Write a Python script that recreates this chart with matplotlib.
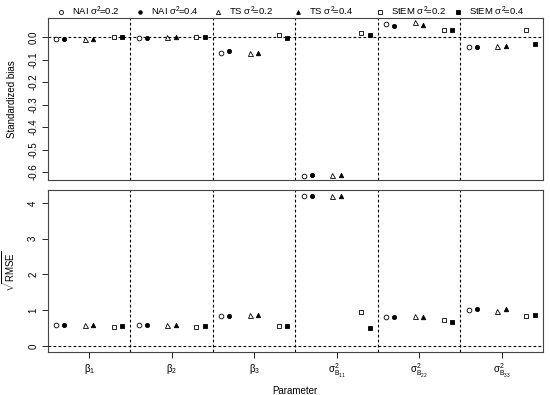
import matplotlib
matplotlib.use('Agg')
import matplotlib.pyplot as plt
from matplotlib.lines import Line2D
import numpy as np

plt.rcParams['font.family'] = ['Liberation Sans', 'DejaVu Sans']
plt.rcParams['mathtext.fontset'] = 'custom'
plt.rcParams['mathtext.rm'] = 'Liberation Sans'
plt.rcParams['mathtext.it'] = 'Liberation Sans'

# parametry
params = [r'$\beta_1$', r'$\beta_2$', r'$\beta_3$',
          r'$\sigma^2_{B_{11}}$', r'$\sigma^2_{B_{22}}$', r'$\sigma^2_{B_{33}}$']
series = [r'NAI $\sigma^2\!$=0.2', r'NAI $\sigma^2\!$=0.4',
          r'TS $\sigma^2\!$=0.2', r'TS $\sigma^2\!$=0.4',
          r'StEM $\sigma^2\!$=0.2', r'StEM $\sigma^2\!$=0.4']

# standardized bias
bias_nai_02 = [-0.010, -0.002, -0.072, -0.616, 0.060, -0.042]
bias_nai_04 = [-0.009, -0.002, -0.062, -0.615, 0.051, -0.042]
bias_ts_02 = [-0.008, 0.000, -0.069, -0.612, 0.068, -0.039]
bias_ts_04 = [-0.007, 0.000, -0.069, -0.612, 0.055, -0.039]
bias_stem_02 = [0.000, 0.000, 0.009, 0.019, 0.031, 0.030]
bias_stem_04 = [0.000, 0.000, -0.002, 0.009, 0.031, -0.033]

# sqrt RMSE
rmse_nai_02 = [0.57, 0.57, 0.83, 4.19, 0.82, 1.00]
rmse_nai_04 = [0.57, 0.57, 0.83, 4.19, 0.81, 1.03]
rmse_ts_02 = [0.59, 0.57, 0.85, 4.20, 0.83, 0.98]
rmse_ts_04 = [0.59, 0.57, 0.85, 4.20, 0.82, 1.04]
rmse_stem_02 = [0.53, 0.53, 0.55, 0.94, 0.73, 0.84]
rmse_stem_04 = [0.56, 0.55, 0.55, 0.51, 0.68, 0.86]

bias = [bias_nai_02, bias_nai_04, bias_ts_02, bias_ts_04, bias_stem_02, bias_stem_04]
rmse = [rmse_nai_02, rmse_nai_04, rmse_ts_02, rmse_ts_04, rmse_stem_02, rmse_stem_04]

offsets = [-0.4, -0.3, -0.05, 0.05, 0.3, 0.4]
markers = ['o', 'o', '^', '^', 's', 's']
filled = [False, True, False, True, False, True]
msizes = [3.4, 3.0, 3.6, 3.2, 3.2, 2.8]

fig = plt.figure(figsize=(5.5, 3.95), dpi=100)
ax1 = fig.add_axes([0.087, 0.544, 0.9, 0.41])
ax2 = fig.add_axes([0.087, 0.109, 0.9, 0.41])

x = np.arange(1, len(params) + 1)
for ax, data in [(ax1, bias), (ax2, rmse)]:
    for k in range(6):
        ax.plot(x + offsets[k], data[k], linestyle='none', marker=markers[k],
                ms=msizes[k], mfc='black' if filled[k] else 'white', mec='black',
                mew=0.6, zorder=3)
    for s in np.arange(1.5, 6.5):
        ax.axvline(s, color='black', lw=0.8, ls=(0, (2.5, 2)))
    ax.axhline(0, color='black', lw=0.8, ls=(0, (2.5, 2)))
    ax.set_xlim(0.5, 6.5)
    for sp in ax.spines.values():
        sp.set_color('#444444')
        sp.set_linewidth(0.8)
    ax.tick_params(axis='y', labelsize=7, rotation=90, length=4, width=0.6, pad=3)

ax1.set_ylim(-0.636, 0.084)
ax1.set_yticks([0.0, -0.1, -0.2, -0.3, -0.4, -0.5, -0.6])
ax1.set_yticklabels(['0.0', '-0.1', '-0.2', '-0.3', '-0.4', '-0.5', '-0.6'], va='center')
ax1.set_xticks([])
ax1.set_ylabel('Standardized bias', fontsize=7)
ax1.yaxis.set_label_coords(-0.062, 0.5)

ax2.set_ylim(-0.17, 4.36)
ax2.set_yticks([0, 1, 2, 3, 4])
ax2.set_yticklabels(['0', '1', '2', '3', '4'], va='center')
ax2.set_xticks(x)
ax2.set_xticklabels(params, fontsize=7)
ax2.tick_params(axis='x', length=4, width=0.6, pad=3)
ax2.set_ylabel(r'$\sqrt{\mathrm{RMSE}}$', fontsize=7)
ax2.yaxis.set_label_coords(-0.062, 0.5)
ax2.set_xlabel('Parameter', fontsize=7)
ax2.xaxis.set_label_coords(0.5, -0.21)

# legenda nad wykresem
leg_x = [60.5, 140, 218, 298, 380, 458]
for k in range(6):
    fx = leg_x[k] / 550
    fy = 1 - 11.5 / 395
    fig.add_artist(Line2D([fx], [fy], transform=fig.transFigure, linestyle='none',
                          marker=markers[k], ms=msizes[k] * 0.85,
                          mfc='black' if filled[k] else 'white', mec='black', mew=0.6))
    fig.text(fx + 11 / 550, fy, series[k], fontsize=6.8, va='center', ha='left')

fig.savefig('out.png', dpi=100)
